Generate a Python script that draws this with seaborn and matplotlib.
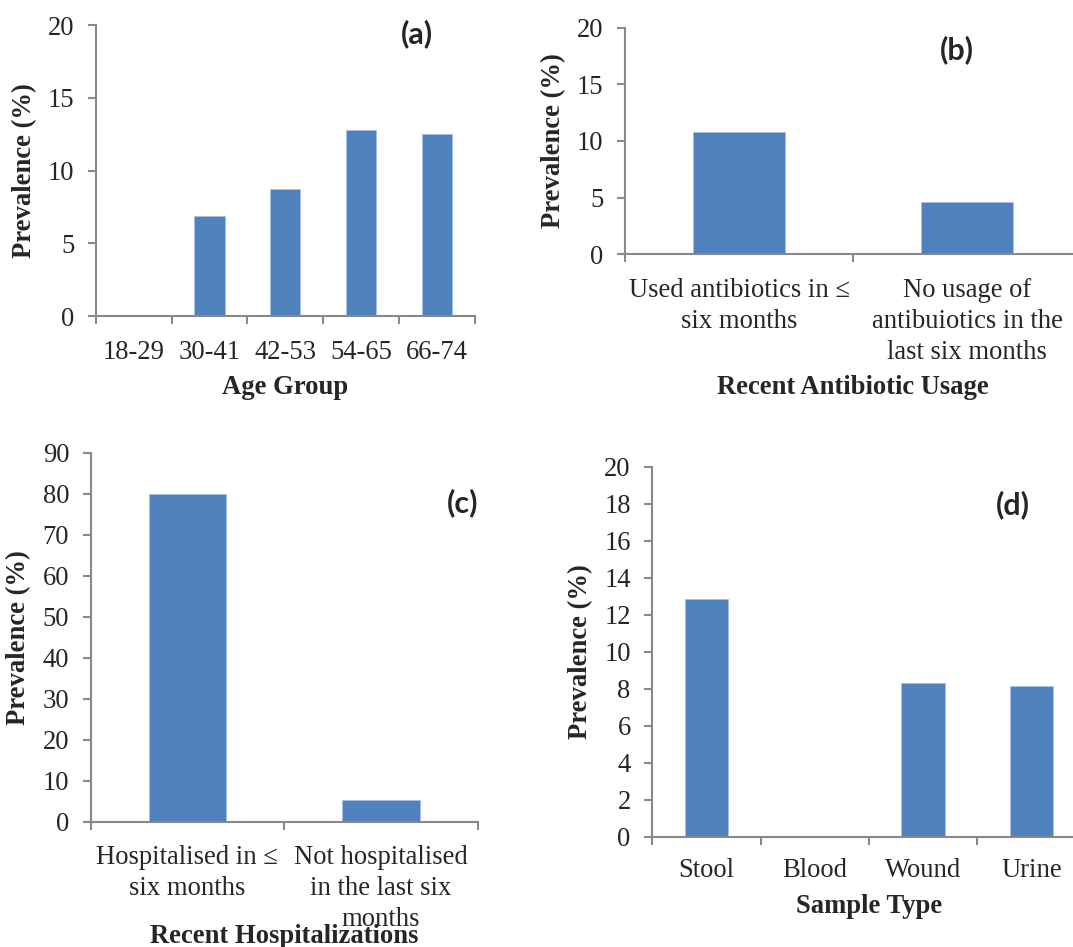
import matplotlib
matplotlib.use('Agg')
import matplotlib.pyplot as plt
import seaborn as sns
import numpy as np
import pandas as pd

# prevalence by age group
age_groups = ['18-29', '30-41', '42-53', '54-65', '66-74']
age_prev = [0, 6.9, 8.7, 12.8, 12.5]

# prevalence by recent antibiotic usage
antibiotic_groups = ['Used antibiotics in \u2264\nsix months',
                     'No usage of\nantibuiotics in the\nlast six months']
antibiotic_prev = [10.76, 4.64]

# prevalence by recent hospitalization
hosp_groups = ['Hospitalised in \u2264\nsix months',
               'Not hospitalised\nin the last six\nmonths']
hosp_prev = [80.0, 5.3]

# prevalence by sample type
sample_types = ['Stool', 'Blood', 'Wound', 'Urine']
sample_prev = [12.85, 0, 8.29, 8.16]

BAR = '#4f81bd'
GRAY = '#898989'
FS = 19.2

sns.set_style('white')
plt.rcParams['font.family'] = ['Liberation Serif', 'DejaVu Serif']
plt.rcParams['font.size'] = FS


def draw_panel(ax, cats, vals, ymax, ystep, xlabel, xlabel_y, ylabel_x, xpad):
    df = pd.DataFrame({'cat': cats, 'val': vals})
    sns.barplot(data=df, x='cat', y='val', color=BAR, saturation=1, width=0.4,
                edgecolor='#a9c1e0', linewidth=0.6, ax=ax)
    n = len(cats)
    ax.set_xlim(-0.5, n - 0.5)
    ax.set_ylim(0, ymax)
    ax.set_yticks(np.arange(0, ymax + ystep / 2, ystep))
    ax.set_xticks(np.arange(n + 1) - 0.5, minor=True)
    ax.tick_params(axis='x', which='major', length=0, pad=xpad, labelsize=FS)
    ax.tick_params(axis='x', which='minor', length=5.5, width=1.5, color=GRAY,
                   direction='out', bottom=True)
    ax.tick_params(axis='y', length=5.5, width=1.5, color=GRAY, direction='out',
                   left=True, pad=10, labelsize=FS)
    for lab in ax.get_xticklabels():
        lab.set_linespacing(1.31)
    sns.despine(ax=ax)
    for side in ['left', 'bottom']:
        ax.spines[side].set_color(GRAY)
        ax.spines[side].set_linewidth(1.5)
    ax.set_xlabel(xlabel, fontweight='bold', fontsize=FS)
    ax.set_ylabel('Prevalence (%)', fontweight='bold', fontsize=FS)
    ax.xaxis.set_label_coords(0.5, xlabel_y)
    ax.xaxis.label.set_va('center')
    ax.yaxis.set_label_coords(ylabel_x, 0.5)
    ax.yaxis.label.set_va('center')


fig = plt.figure(figsize=(10.73, 9.47), dpi=100)

ax_a = fig.add_axes([0.0892, 0.6663, 0.3532, 0.3073])
ax_b = fig.add_axes([0.5825, 0.7315, 0.4250, 0.2393])
ax_c = fig.add_axes([0.0845, 0.1323, 0.3607, 0.3897])
ax_d = fig.add_axes([0.6079, 0.1165, 0.4038, 0.3907])

draw_panel(ax_a, age_groups, age_prev, 20, 5, 'Age Group', -0.244, -0.1865, 17.5)
draw_panel(ax_b, antibiotic_groups, antibiotic_prev, 20, 5, 'Recent Antibiotic Usage',
           -0.59, -0.156, 17)
draw_panel(ax_c, hosp_groups, hosp_prev, 90, 10, 'Recent Hospitalizations',
           -0.31, -0.187, 17)
draw_panel(ax_d, sample_types, sample_prev, 20, 2, 'Sample Type', -0.189, -0.165, 15)

letter_font = dict(fontsize=22, fontweight='bold', family=['Lato', 'DejaVu Sans'],
                   ha='center', va='center')
fig.text(0.3886, 0.9641, '(a)', **letter_font)
fig.text(0.8919, 0.9472, '(b)', **letter_font)
fig.text(0.4315, 0.4689, '(c)', **letter_font)
fig.text(0.9436, 0.4667, '(d)', **letter_font)

fig.savefig('out.png', dpi=100)
